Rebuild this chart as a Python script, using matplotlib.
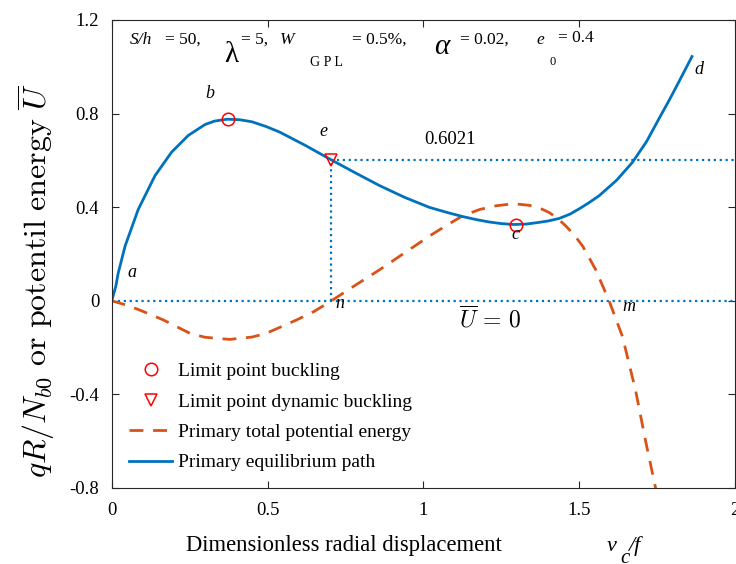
import matplotlib
matplotlib.use("Agg")
import matplotlib.pyplot as plt
from matplotlib.lines import Line2D

plt.rcParams["font.family"] = ["Liberation Serif", "DejaVu Serif"]
plt.rcParams["mathtext.fontset"] = "cm"

# primary equilibrium path
path_x = [0, 0.013, 0.021, 0.043, 0.085, 0.139, 0.192, 0.246, 0.299, 0.33,
          0.37, 0.41, 0.45, 0.495, 0.539, 0.62, 0.705, 0.78, 0.86, 0.94,
          1.02, 1.075, 1.126, 1.17, 1.21, 1.25, 1.29, 1.33, 1.36, 1.4,
          1.436, 1.47, 1.5, 1.53, 1.564, 1.62, 1.671, 1.716, 1.756, 1.79,
          1.82, 1.862]
path_y = [0, 0.061, 0.119, 0.234, 0.39, 0.535, 0.635, 0.707, 0.753, 0.768,
          0.776, 0.774, 0.765, 0.745, 0.721, 0.665, 0.602, 0.548, 0.492, 0.442,
          0.399, 0.378, 0.36, 0.347, 0.337, 0.33, 0.326, 0.328, 0.333, 0.341,
          0.352, 0.37, 0.393, 0.418, 0.449, 0.515, 0.592, 0.68, 0.778, 0.86,
          0.936, 1.044]

# primary total potential energy
energy_x = [0, 0.052, 0.1, 0.166, 0.251, 0.3, 0.379, 0.45, 0.496, 0.593,
            0.65, 0.705, 0.78, 0.86, 0.94, 1.02, 1.075, 1.126, 1.18, 1.233,
            1.29, 1.34, 1.382, 1.404, 1.43, 1.457, 1.485, 1.511, 1.553, 1.596,
            1.639, 1.681, 1.713, 1.745, 1.76]
energy_y = [0, -0.02, -0.045, -0.082, -0.139, -0.156, -0.165, -0.155, -0.139, -0.082,
            -0.045, 0, 0.065, 0.133, 0.205, 0.277, 0.323, 0.363, 0.39, 0.406,
            0.415, 0.408, 0.391, 0.377, 0.353, 0.32, 0.28, 0.234, 0.133, 0,
            -0.153, -0.383, -0.598, -0.799, -0.9]

limit_x = [0.372, 1.298]
limit_y = [0.776, 0.326]
dyn_x = [0.705]
dyn_y = [0.6021]

xticks = [0, 0.5, 1, 1.5, 2]
xticklabels = ["0", "0.5", "1", "1.5", "2"]
yticks = [-0.8, -0.4, 0, 0.4, 0.8, 1.2]
yticklabels = ["-0.8", "-0.4", "0", "0.4", "0.8", "1.2"]

blue = "#0072BD"
orange = "#D95319"

fig = plt.figure(figsize=(7.36, 5.64), dpi=100)
ax = fig.add_axes([111.7 / 736, 76 / 564, (735 - 111.7) / 736, 468 / 564])

ax.plot([0, 2], [0, 0], ":", color=blue, lw=1.6)
ax.plot([dyn_x[0], 2], [dyn_y[0], dyn_y[0]], ":", color=blue, lw=1.6)
ax.plot([dyn_x[0], dyn_x[0]], [0, dyn_y[0]], ":", color=blue, lw=1.6)

ax.plot(energy_x, energy_y, "--", color=orange, lw=2.0, dashes=(5, 3.5))
ax.plot(path_x, path_y, "-", color=blue, lw=2.0)
ax.plot(limit_x, limit_y, "o", ms=9, mfc="none", mec="red", mew=1.1)
ax.plot(dyn_x, dyn_y, "v", ms=9, mfc="none", mec="red", mew=1.1)

ax.set_xlim(0, 2)
ax.set_ylim(-0.8, 1.2)
ax.set_xticks(xticks)
ax.set_xticklabels(xticklabels)
ax.set_yticks(yticks)
ax.set_yticklabels(yticklabels)
ax.tick_params(direction="in", top=True, right=True, labelsize=13.5,
               length=5, width=0.8, color="#262626")
ax.tick_params(axis="x", pad=10)
ax.tick_params(axis="y", pad=9)
for s in ax.spines.values():
    s.set_color("#262626")
    s.set_linewidth(0.8)

# point labels
it = dict(fontsize=13, style="italic", va="baseline", ha="left")
ax.text(0.052, 0.103, "a", **it)
ax.text(0.299, 0.867, "b", **it)
ax.text(0.667, 0.704, "e", **it)
ax.text(1.282, 0.266, "c", **it)
ax.text(0.719, -0.03, "n", **it)
ax.text(1.871, 0.97, "d", **it)
ax.text(1.638, -0.043, "m", **it)
ax.text(1.004, 0.67, "0.6021", fontsize=13.5, va="baseline", ha="left")
ax.text(1.115, -0.116, r"$\overline{U}\,=\,0$", fontsize=17, va="baseline", ha="left")

# parameter line
ax.text(0.0586, 1.099, "S/h", fontsize=12.5, style="italic", va="baseline")
ax.text(0.172, 1.099, "= 50,", fontsize=12.5, va="baseline")
ax.text(0.36, 1.021, "λ", fontsize=21, va="baseline")
ax.text(0.414, 1.099, "= 5,", fontsize=12.5, va="baseline")
ax.text(0.54, 1.099, "W", fontsize=12.5, style="italic", va="baseline")
ax.text(0.635, 1.004, "G P L", fontsize=10, va="baseline")
ax.text(0.77, 1.099, "= 0.5%,", fontsize=12.5, va="baseline")
ax.text(1.036, 1.056, "α", fontsize=21, style="italic", va="baseline")
ax.text(1.116, 1.099, "= 0.02,", fontsize=12.5, va="baseline")
ax.text(1.362, 1.099, "e", fontsize=12.5, style="italic", va="baseline")
ax.text(1.404, 1.009, "0", fontsize=9, va="baseline")
ax.text(1.432, 1.105, "= 0.4", fontsize=12.5, va="baseline")

handles = [
    Line2D([], [], ls="none", marker="o", ms=9, mfc="none", mec="red", mew=1.1),
    Line2D([], [], ls="none", marker="v", ms=9, mfc="none", mec="red", mew=1.1),
    Line2D([], [], ls="--", color=orange, lw=2.0, dashes=(5, 3.5)),
    Line2D([], [], ls="-", color=blue, lw=2.0),
]
labels = ["Limit point buckling", "Limit point dynamic buckling",
          "Primary total potential energy", "Primary equilibrium path"]
ax.legend(handles, labels, loc="lower left", bbox_to_anchor=(0.0, -0.002),
          frameon=False, fontsize=14, handlelength=2.2, labelspacing=0.66,
          handletextpad=0.3, borderaxespad=0.5)

# axis labels
fig.text(344 / 736, 1 - 551 / 564, "Dimensionless radial displacement",
         fontsize=16.3, ha="center", va="baseline")
fig.text(607 / 736, 1 - 551 / 564, "v", fontsize=16, style="italic", va="baseline")
fig.text(620 / 736, 1 - 563 / 564, "c", fontsize=15, style="italic", va="baseline")
fig.text(628 / 736, 1 - 551 / 564, "/f", fontsize=16, style="italic", va="baseline")
fig.text(36 / 736, 1 - 281 / 564,
         r"$qR/N_{b0}\ \mathrm{or\ potentil\ energy}\ \overline{U}$",
         fontsize=23, rotation=90, ha="center", va="center")

fig.savefig("out.png", dpi=100)
